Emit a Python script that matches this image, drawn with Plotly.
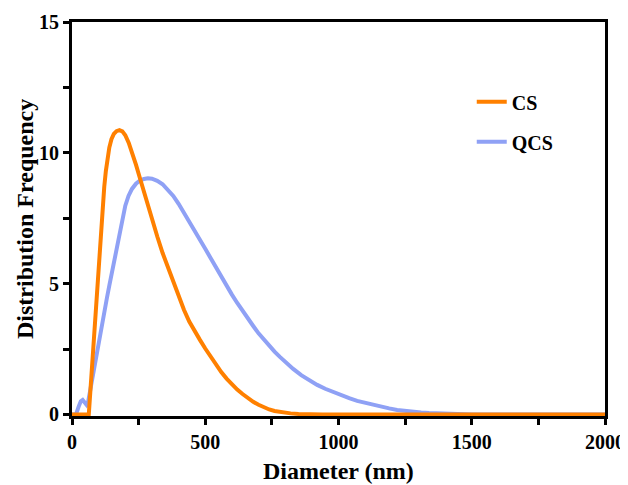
import plotly.graph_objects as go

# CS series (Diameter nm, Distribution Frequency)
cs_x = [0, 63, 70, 80, 90, 100, 108, 115, 121, 127, 133, 140, 148, 157, 167, 178, 189, 200,
        213, 226, 240, 255, 270, 285, 300, 320, 340, 360, 380, 400, 420, 440, 460, 480, 500,
        520, 540, 560, 580, 600, 620, 640, 660, 680, 700, 720, 740, 760, 780, 800, 820, 850,
        880, 940, 2000]
cs_y = [0, 0, 1.05, 2.6, 4.15, 5.7, 6.95, 7.95, 8.7, 9.3, 9.8, 10.2, 10.52, 10.72, 10.83, 10.87, 10.82, 10.67,
        10.38, 10.0, 9.55, 9.03, 8.5, 7.97, 7.45, 6.8, 6.17, 5.6, 5.05, 4.5, 4.0, 3.55, 3.17, 2.85, 2.52,
        2.2, 1.9, 1.62, 1.37, 1.15, 0.95, 0.78, 0.62, 0.48, 0.37, 0.27, 0.19, 0.13, 0.09, 0.06, 0.04, 0.02,
        0.01, 0.0, 0.0]

# QCS series
qcs_x = [0, 15, 25, 33, 40, 47, 55, 60, 67, 75, 85, 94, 104, 113, 122, 131, 140, 150, 160, 170,
         180, 190, 200, 212, 225, 240, 255, 270, 285, 300, 320, 340, 360, 380, 400, 420, 440, 460,
         480, 500, 520, 540, 560, 580, 600, 620, 640, 660, 680, 700, 720, 740, 760, 780, 800, 830,
         860, 890, 920, 950, 980, 1010, 1040, 1070, 1100, 1130, 1160, 1190, 1220, 1250, 1280, 1310,
         1340, 1380, 1420, 1460, 1500, 2000]
qcs_y = [0, 0, 0.3, 0.5, 0.55, 0.47, 0.36, 0.45, 0.85, 1.35, 2.0, 2.55, 3.05, 3.5, 3.97, 4.45, 4.92, 5.42, 5.95, 6.5,
         7.05, 7.55, 7.98, 8.35, 8.62, 8.82, 8.94, 9.0, 9.03, 9.01, 8.93, 8.8, 8.6, 8.35, 8.05, 7.72, 7.38, 7.03,
         6.68, 6.33, 5.98, 5.62, 5.26, 4.92, 4.58, 4.26, 3.95, 3.66, 3.38, 3.1, 2.85, 2.62, 2.4, 2.2, 2.0, 1.74,
         1.5, 1.3, 1.13, 0.98, 0.85, 0.73, 0.62, 0.52, 0.44, 0.37, 0.3, 0.23, 0.17, 0.13, 0.09, 0.07,
         0.05, 0.03, 0.02, 0.01, 0.0, 0.0]

x_ticks = [0, 500, 1000, 1500, 2000]
y_ticks = [0, 5, 10, 15]
x_title = "Diameter (nm)"
y_title = "Distribution Frequency"

FONT = "Liberation Serif"

fig = go.Figure()
fig.add_trace(go.Scatter(x=qcs_x, y=qcs_y, mode="lines", name="QCS", legendgroup="b",
                         legendrank=2, line=dict(color="#8FA1F5", width=4)))
fig.add_trace(go.Scatter(x=cs_x, y=cs_y, mode="lines", name="CS", legendgroup="a",
                         legendrank=1, line=dict(color="#FF8000", width=4)))

axis_common = dict(
    showline=True, linecolor="black", linewidth=3, mirror=True,
    ticks="outside", ticklen=6, tickwidth=2.5, tickcolor="black",
    showgrid=False, zeroline=False, layer="below traces", automargin=False,
    ticklabeloverflow="allow",
    tickfont=dict(family=FONT, size=20, color="black", weight="bold"),
)

title_font = dict(family=FONT, size=24, color="black", weight="bold")

# page body has an 8px margin, so the figure is offset by 8px inside the window
fig.update_layout(
    width=620, height=477,
    margin=dict(l=64, r=23, t=14, b=69),
    paper_bgcolor="white", plot_bgcolor="white",
    font=dict(family=FONT, color="black"),
    showlegend=True,
    legend=dict(x=0.75, y=0.847, xanchor="left", yanchor="top",
                bgcolor="rgba(0,0,0,0)", tracegroupgap=11,
                font=dict(family=FONT, size=20, color="black", weight="bold")),
    xaxis=dict(range=[0, 2000], tickvals=x_ticks, ticktext=[str(v) for v in x_ticks],
               minor=dict(dtick=250, ticks="outside", ticklen=6, tickwidth=2.5, tickcolor="black"),
               **axis_common),
    yaxis=dict(range=[-0.06, 15], tickvals=y_ticks, ticktext=[str(v) for v in y_ticks],
               minor=dict(dtick=2.5, ticks="outside", ticklen=6, tickwidth=2.5, tickcolor="black"),
               **axis_common),
    annotations=[
        dict(text=x_title, xref="paper", yref="paper", x=0.5, y=0, xanchor="center",
             yanchor="middle", yshift=-55, showarrow=False, font=title_font),
        dict(text=y_title, xref="paper", yref="paper", x=0, y=0.5, xanchor="center",
             yanchor="middle", xshift=-47, textangle=-90, showarrow=False, font=title_font),
    ],
)

fig.write_html("out.html")
